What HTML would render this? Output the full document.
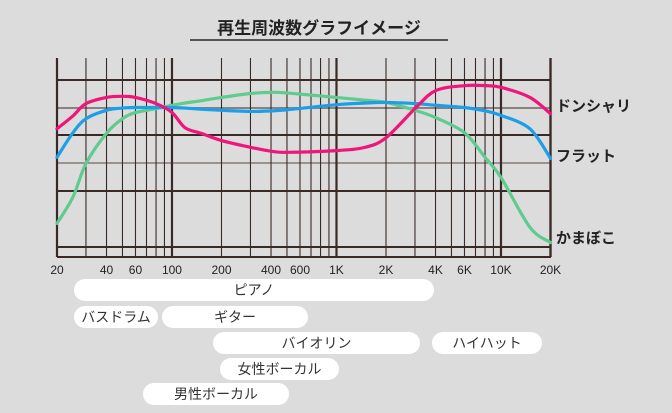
<!DOCTYPE html>
<html><head><meta charset="utf-8"><style>
body{margin:0;background:#dcdcdc;font-family:"Liberation Sans","Noto Sans CJK JP",sans-serif;}
#wrap{position:relative;width:672px;height:413px;overflow:hidden;background:#dcdcdc;}
.pill{position:absolute;background:#fff;border-radius:11px;height:22px;line-height:22px;text-align:center;font-size:14px;color:#333;}
</style></head><body>
<div id="wrap">
<div style="position:absolute;left:190px;top:14px;width:258px;text-align:center;font-size:17px;font-weight:bold;color:#222;">再生周波数グラフイメージ</div>
<div style="position:absolute;left:190px;top:39px;width:258px;height:2px;background:#555;"></div>
<svg id="chart" width="672" height="413" style="position:absolute;left:0;top:0"></svg>
<div class="pill" style="left:74px;top:279px;width:360px;">ピアノ</div>
<div class="pill" style="left:74px;top:306px;width:84px;">バスドラム</div>
<div class="pill" style="left:162px;top:306px;width:146px;">ギター</div>
<div class="pill" style="left:213px;top:332px;width:207px;">バイオリン</div>
<div class="pill" style="left:432px;top:332px;width:110px;">ハイハット</div>
<div class="pill" style="left:220px;top:358px;width:119px;">女性ボーカル</div>
<div class="pill" style="left:143px;top:383px;width:146px;">男性ボーカル</div>
</div>
<script>
const freqs=[20,25,30,40,50,60,80,100,120,150,200,300,400,500,1000,1500,2000,3000,4000,6000,8000,10000,15000,20000];
const donshari=[-3.8,-1.5,0.7,1.8,2,1.8,0.7,-0.9,-3.6,-4.6,-5.9,-7.1,-7.8,-8,-7.7,-7.1,-5.4,-0.2,3,3.9,3.9,3.6,1.8,-1.1];
const flat=[-8.9,-4.5,-2,-0.5,-0.1,0,0,0,-0.1,-0.3,-0.5,-0.7,-0.6,-0.4,0.5,0.8,0.9,0.7,0.4,0,-0.6,-1.4,-3.8,-9.1];
const kamaboko=[-20.7,-16,-10,-4.6,-2,-0.9,-0.2,0.4,0.8,1.2,1.8,2.5,2.7,2.6,1.8,1.3,0.9,-0.5,-1.8,-4.5,-8.9,-12.5,-21.4,-24.1];
const tickFreqs=[20,40,60,100,200,400,600,1000,2000,4000,6000,10000,20000];
const tickLabels=["20","40","60","100","200","400","600","1K","2K","4K","6K","10K","20K"];
const seriesNames=["ドンシャリ","フラット","かまぼこ"];
const NS="http://www.w3.org/2000/svg";
const svg=document.getElementById('chart');
function xs(f){return 57+(Math.log10(f)-Math.log10(20))*164.5;}
function ys(v){return 107.5-v*5.6;}
function mk(t,a){const e=document.createElementNS(NS,t);for(const k in a)e.setAttribute(k,a[k]);svg.appendChild(e);return e;}
const gc="#3a2a25";
// horizontal grid
[[80,2,gc],[108,2,"#8a8080"],[135,2,gc],[163,1,"#5a4a45"],[191,2,gc],[247,2,gc],[257,2,gc]].forEach(h=>{
 const l=mk('line',{x1:57,x2:551,y1:h[0],y2:h[0],stroke:h[2],'stroke-width':h[1]});
 
 
});
// vertical grid
const vf=[];for(let d=10;d<=10000;d*=10)for(let m=1;m<10;m++){const f=d*m;if(f>=20&&f<=20000)vf.push(f);}vf.push(20000);
vf.forEach(f=>{const thick=(f===20||f===100||f===1000||f===10000||f===20000);
 const l=mk('line',{x1:xs(f),x2:xs(f),y1:58,y2:257,stroke:gc,'stroke-width':thick?2.2:1.1});
 
 
});
tickFreqs.forEach((f,i)=>{const t=mk('text',{x:xs(f),y:274,'text-anchor':'middle','font-size':12,fill:'#222'});t.textContent=tickLabels[i];
 
 });
function path(vals){let d='';const pts=freqs.map((f,i)=>[xs(f),ys(vals[i])]);
 d='M'+pts[0][0]+','+pts[0][1];
 for(let i=0;i<pts.length-1;i++){const p0=pts[Math.max(0,i-1)],p1=pts[i],p2=pts[i+1],p3=pts[Math.min(pts.length-1,i+2)];
 const c1=[p1[0]+(p2[0]-p0[0])/6,p1[1]+(p2[1]-p0[1])/6],c2=[p2[0]-(p3[0]-p1[0])/6,p2[1]-(p3[1]-p1[1])/6];
 d+=' C'+c1+' '+c2+' '+p2;}return d;}
const series=[[kamaboko,'#5fcb8f','series-kamaboko'],[flat,'#1a9fe8','series-flat'],[donshari,'#f0157a','series-donshari']];
series.forEach(s=>{const p=mk('path',{d:path(s[0]),fill:'none',stroke:s[1],'stroke-width':3.2,'stroke-linecap':'round'});
 
 });
const labY=[111,161,243];
seriesNames.forEach((n,i)=>{const t=mk('text',{x:556,y:labY[i],'font-size':15,'font-weight':'bold',fill:'#222'});t.textContent=n;
 
 });
</script>
</body></html>
